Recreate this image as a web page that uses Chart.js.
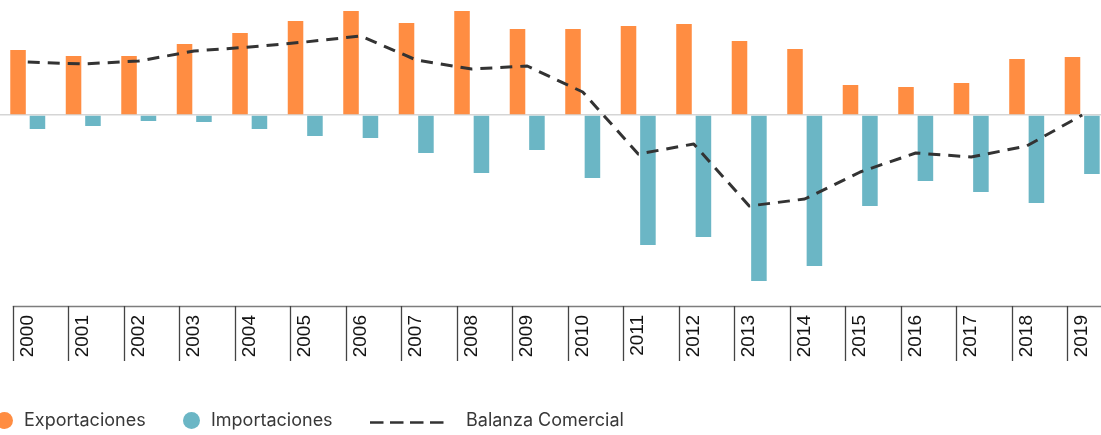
<!DOCTYPE html>
<html lang="es">
<head>
<meta charset="utf-8">
<title>Balanza Comercial 2000–2019</title>
<script src="https://cdn.jsdelivr.net/npm/chart.js@4.4.1/dist/chart.umd.min.js"></script>
<style>
  html, body { margin: 0; padding: 0; background: #fff; overflow: hidden; width: 1101px; height: 435px; }
  #wrap { position: absolute; left: 0; top: 0; width: 1114px; height: 370px; }
  #legend { position: absolute; left: 0; top: 0; width: 1101px; height: 435px; pointer-events: none;
            font-family: Inter, "Noto Sans", sans-serif; font-size: 18px; color: #383838; }
  .lg-item { position: absolute; top: 411px; height: 18px; display: flex; align-items: center; white-space: nowrap; }
  .lg-dot { width: 17px; height: 17px; border-radius: 50%; display: inline-block; }
  .lg-text { margin-left: 11px; line-height: 18px; }
</style>
</head>
<body>
<div id="wrap"><canvas id="chart" width="1114" height="370"></canvas></div>
<div id="legend"></div>
<script>
// Years on the category axis
const years = ['2000','2001','2002','2003','2004','2005','2006','2007','2008','2009',
               '2010','2011','2012','2013','2014','2015','2016','2017','2018','2019'];

// Exports (positive) and imports (negative)
const exportaciones = [6.5, 5.9, 5.9, 7.1, 8.2, 9.4, 10.4, 9.2, 10.4, 8.6,
                       8.6, 8.9, 9.1, 7.4, 6.6, 3.0, 2.8, 3.2, 5.6, 5.8];
const importaciones = [-1.4, -1.1, -0.6, -0.7, -1.4, -2.1, -2.3, -3.8, -5.8, -3.5,
                       -6.3, -13.0, -12.2, -16.6, -15.1, -9.1, -6.6, -7.7, -8.8, -5.9];

// Trade balance
const balanza = [5.3, 5.1, 5.4, 6.4, 6.8, 7.3, 7.9, 5.5, 4.6, 4.9,
                 2.3, -3.9, -2.9, -9.1, -8.4, -5.7, -3.8, -4.2, -3.1, 0.0];

const COLOR_EXP = '#FF8D42';
const COLOR_IMP = '#6BB6C5';
const COLOR_BAL = '#333333';

// Short vertical separators under the axis, left of each year label
const axisTicks = {
  id: 'axisTicks',
  afterDraw(chart) {
    const xs = chart.scales.x;
    const ctx = chart.ctx;
    const band = xs.width / xs.ticks.length;
    const y0 = xs.top;
    const shift = band * 0.27;
    ctx.save();
    ctx.strokeStyle = '#7d7d7d';
    ctx.lineWidth = 1.4;
    ctx.beginPath();
    ctx.moveTo(xs.getPixelForValue(0) - shift, y0 + 0.5);
    ctx.lineTo(chart.width, y0 + 0.5);
    ctx.stroke();
    ctx.strokeStyle = '#444444';
    ctx.lineWidth = 1.3;
    ctx.beginPath();
    xs.ticks.forEach((t, i) => {
      const px = Math.round(xs.getPixelForValue(i) - shift) + 0.5;
      ctx.moveTo(px, y0);
      ctx.lineTo(px, y0 + 55);
    });
    ctx.stroke();
    ctx.restore();
  }
};

const chart = new Chart(document.getElementById('chart'), {
  type: 'bar',
  data: {
    labels: years,
    datasets: [
      {
        type: 'line',
        label: 'Balanza Comercial',
        data: balanza,
        borderColor: COLOR_BAL,
        backgroundColor: COLOR_BAL,
        borderWidth: 3,
        borderDash: [12, 8],
        borderJoinStyle: 'round',
        pointRadius: 0,
        tension: 0,
        fill: false,
        order: 0
      },
      {
        label: 'Exportaciones',
        data: exportaciones,
        backgroundColor: COLOR_EXP,
        borderWidth: 0,
        categoryPercentage: 0.7,
        barPercentage: 0.8,
        order: 1
      },
      {
        label: 'Importaciones',
        data: importaciones,
        backgroundColor: COLOR_IMP,
        borderWidth: 0,
        categoryPercentage: 0.7,
        barPercentage: 0.8,
        order: 1
      }
    ]
  },
  options: {
    responsive: false,
    animation: false,
    devicePixelRatio: 1,
    layout: { padding: 0 },
    plugins: {
      legend: { display: false },
      tooltip: { enabled: false }
    },
    scales: {
      x: {
        grid: { display: false, drawTicks: false },
        border: { display: false },
        ticks: {
          autoSkip: false,
          minRotation: 90,
          maxRotation: 90,
          padding: 9,
          color: '#141414',
          font: { family: '"Liberation Sans", Arial, sans-serif', size: 19 }
        },
        afterFit(scale) { scale.height = 64; }
      },
      y: {
        display: true,
        min: -19.1,
        max: 11.5,
        ticks: { display: false },
        border: { display: false },
        grid: {
          drawTicks: false,
          lineWidth: 1.5,
          color: (ctx) => (ctx.tick && ctx.tick.value === 0 ? '#d5d5d5' : 'rgba(0,0,0,0)')
        },
        afterFit(scale) { scale.width = 0; }
      }
    }
  },
  plugins: [axisTicks]
});

// Legend row built from the chart's datasets
const legendOrder = ['Exportaciones', 'Importaciones', 'Balanza Comercial'];
const legendX = [-4, 183, 370];
const legend = document.getElementById('legend');
legendOrder.forEach((name, i) => {
  const ds = chart.data.datasets.find(d => d.label === name);
  const item = document.createElement('div');
  item.className = 'lg-item';
  item.style.left = legendX[i] + 'px';
  let mark;
  if (ds.type === 'line') {
    mark = document.createElementNS('http://www.w3.org/2000/svg', 'svg');
    mark.setAttribute('width', '76');
    mark.setAttribute('height', '18');
    const ln = document.createElementNS('http://www.w3.org/2000/svg', 'line');
    ln.setAttribute('x1', '0'); ln.setAttribute('x2', '74');
    ln.setAttribute('y1', '11.5'); ln.setAttribute('y2', '11.5');
    ln.setAttribute('stroke', ds.borderColor);
    ln.setAttribute('stroke-width', '2.7');
    ln.setAttribute('stroke-dasharray', '13.5 6.5');
    mark.appendChild(ln);
  } else {
    mark = document.createElement('span');
    mark.className = 'lg-dot';
    mark.style.background = ds.backgroundColor;
  }
  const txt = document.createElement('span');
  txt.className = 'lg-text';
  txt.textContent = name;
  if (ds.type === 'line') txt.style.marginLeft = '20px';
  item.appendChild(mark);
  item.appendChild(txt);
  legend.appendChild(item);
});
</script>
</body>
</html>
